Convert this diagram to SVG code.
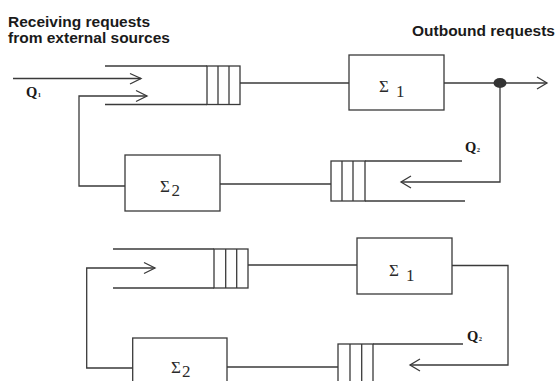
<svg xmlns="http://www.w3.org/2000/svg" width="557" height="381" viewBox="0 0 557 381">
  <style>
    .ln { fill: none; stroke: #3a3a3a; stroke-width: 1.3; }
    .box { fill: #ffffff; stroke: #3a3a3a; stroke-width: 1.3; }
    .head { font-family: "Liberation Sans", Arial, sans-serif; font-weight: bold; font-size: 15.5px; fill: #1a1a1a; }
    .sig { font-family: "Liberation Serif", "Times New Roman", serif; font-size: 17px; fill: #2a2a2a; }
    .q { font-family: "Liberation Serif", "Times New Roman", serif; font-weight: bold; font-size: 14.5px; fill: #1a1a1a; }
    .qs { font-size: 6.5px; }
  </style>
  <rect width="557" height="381" fill="#ffffff"/>

  <!-- headings -->
  <g id="labels">
    <text class="head" x="8" y="27">Receiving requests</text>
    <text class="head" x="8" y="43">from external sources</text>
    <text class="head" x="412" y="36">Outbound requests</text>
  </g>

  <!-- ===== upper loop: open system ===== -->
  <g id="top-queue1">
    <line class="ln" x1="105" y1="66" x2="207" y2="66"/>
    <line class="ln" x1="105" y1="104.5" x2="207" y2="104.5"/>
    <rect class="box" x="207" y="66" width="33" height="38.5"/>
    <line class="ln" x1="218" y1="66" x2="218" y2="104.5"/>
    <line class="ln" x1="229" y1="66" x2="229" y2="104.5"/>
  </g>
  <g id="top-sigma1">
    <rect class="box" x="349" y="55" width="95" height="55"/>
    <text class="sig" x="379" y="92">Σ<tspan x="396" y="97">1</tspan></text>
  </g>
  <g id="top-queue2">
    <line class="ln" x1="365" y1="161" x2="462" y2="161"/>
    <line class="ln" x1="365" y1="201" x2="465" y2="201"/>
    <rect class="box" x="331" y="161" width="34" height="40"/>
    <line class="ln" x1="342" y1="161" x2="342" y2="201"/>
    <line class="ln" x1="353" y1="161" x2="353" y2="201"/>
  </g>
  <g id="top-sigma2">
    <rect class="box" x="125" y="155" width="95" height="56"/>
    <text class="sig" x="160" y="192">Σ<tspan x="171.5" y="196">2</tspan></text>
  </g>
  <g id="top-connectors">
    <!-- external input Q1 -->
    <polyline class="ln" points="13,78.5 141,78.5"/>
    <polyline class="ln" points="130,73.5 141,78.5 130,84"/>
    <!-- queue to server 1 -->
    <line class="ln" x1="240" y1="83" x2="349" y2="83"/>
    <!-- server 1 to output -->
    <line class="ln" x1="444" y1="83" x2="547" y2="83"/>
    <polyline class="ln" points="537,77 547,83 537,89"/>
    <ellipse cx="500" cy="83" rx="6.5" ry="5" fill="#333333"/>
    <!-- branch back into queue 2 -->
    <polyline class="ln" points="500,83 500,182 401,182"/>
    <polyline class="ln" points="411,176 401,182 411,188"/>
    <!-- queue 2 to server 2 -->
    <line class="ln" x1="220" y1="184" x2="331" y2="184"/>
    <!-- server 2 back to queue 1 -->
    <polyline class="ln" points="125,186 79,186 79,96 147,96"/>
    <polyline class="ln" points="136,90.5 147,96 136,101.5"/>
    <text class="q" x="26" y="97">Q<tspan class="qs" dx="0.5">1</tspan></text>
    <text class="q" x="465" y="152">Q<tspan class="qs" dx="0.5">2</tspan></text>
  </g>

  <!-- ===== lower loop: closed system ===== -->
  <g id="bottom-queue1">
    <line class="ln" x1="113" y1="249" x2="214" y2="249"/>
    <line class="ln" x1="113" y1="288" x2="214" y2="288"/>
    <rect class="box" x="214" y="249" width="34" height="39"/>
    <line class="ln" x1="225.7" y1="249" x2="225.7" y2="288"/>
    <line class="ln" x1="236.7" y1="249" x2="236.7" y2="288"/>
  </g>
  <g id="bottom-sigma1">
    <rect class="box" x="357" y="238" width="95" height="56"/>
    <text class="sig" x="389" y="275.5">Σ<tspan x="406" y="280.5">1</tspan></text>
  </g>
  <g id="bottom-queue2">
    <line class="ln" x1="373" y1="344" x2="463" y2="344"/>
    <rect class="box" x="338" y="344" width="35" height="50"/>
    <line class="ln" x1="350" y1="344" x2="350" y2="394"/>
    <line class="ln" x1="361.7" y1="344" x2="361.7" y2="394"/>
  </g>
  <g id="bottom-sigma2">
    <rect class="box" x="132.7" y="338" width="94.3" height="60"/>
    <text class="sig" x="171" y="373">Σ<tspan x="182" y="377">2</tspan></text>
  </g>
  <g id="bottom-connectors">
    <line class="ln" x1="248" y1="265" x2="357" y2="265"/>
    <polyline class="ln" points="452,265.5 508,265.5 508,365 410,365"/>
    <polyline class="ln" points="420,359 410,365 420,371"/>
    <line class="ln" x1="227" y1="367" x2="338" y2="367"/>
    <polyline class="ln" points="132.7,368 86.7,368 86.7,268 155,268"/>
    <polyline class="ln" points="144,262.5 155,268 144,273.5"/>
    <text class="q" x="467" y="341">Q<tspan class="qs" dx="0.5">2</tspan></text>
  </g>
</svg>
